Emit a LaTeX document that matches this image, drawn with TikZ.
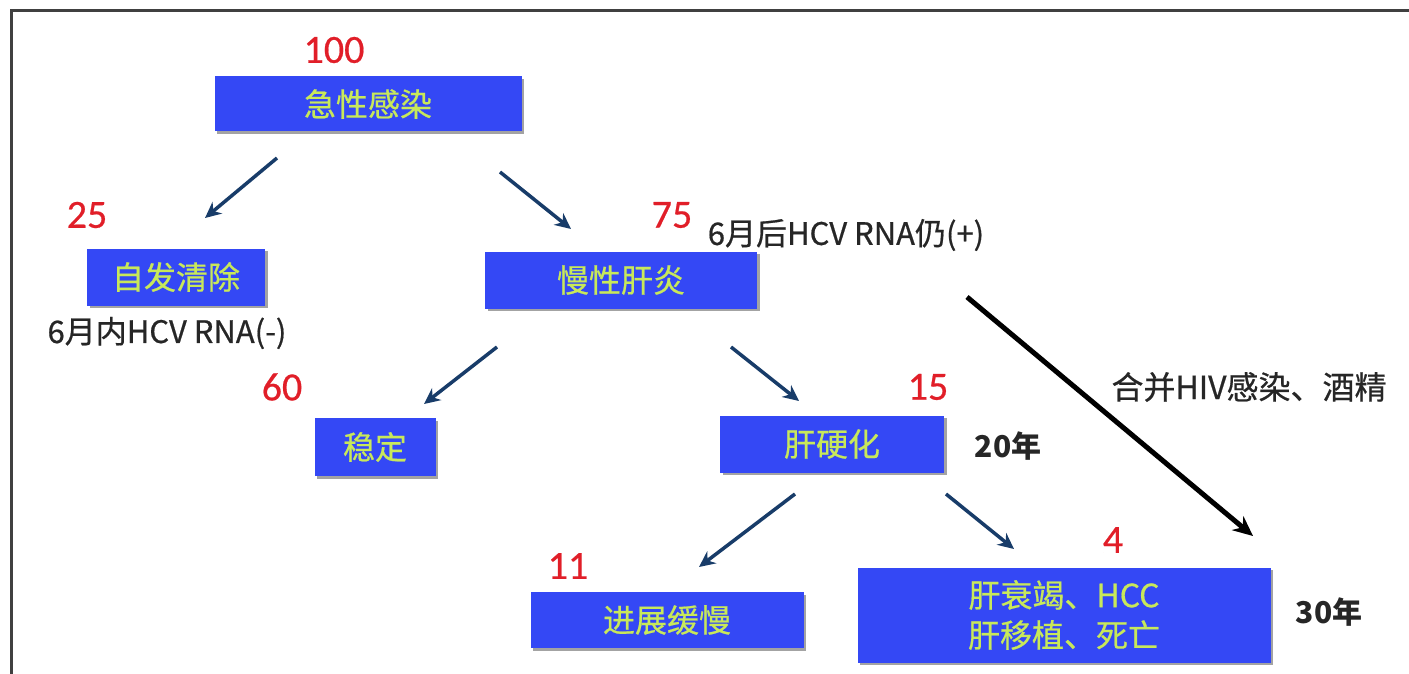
\documentclass[tikz,border=0pt]{standalone}
\usepackage{fontspec}
\setmainfont{Carlito}
\newfontfamily\cjk{Noto Sans CJK SC}
\newfontfamily\cjkm[FakeBold=0.6]{Noto Sans CJK SC}
\newfontfamily\latm[FakeBold=0.5]{Carlito}
\usetikzlibrary{arrows.meta,shadows}
\definecolor{boxblue}{RGB}{52,72,245}
\definecolor{boxtext}{RGB}{200,232,90}
\definecolor{numred}{RGB}{225,30,40}
\definecolor{arrnavy}{RGB}{24,60,105}
\tikzset{
  box/.style={fill=boxblue, draw=none, inner sep=0pt, text=boxtext,
    font=\cjkm\fontsize{32}{40}\selectfont, align=center,
    drop shadow={shadow xshift=2.5pt, shadow yshift=-2.5pt, fill=black!45, opacity=0.8}},
  num/.style={text=numred, font=\latm\fontsize{40}{44}\selectfont, inner sep=0pt},
  lbl/.style={text=black!85, font=\cjkm\fontsize{31}{34}\selectfont, inner sep=0pt},
  yr/.style={text=black!85, font=\cjk\bfseries\fontsize{30}{34}\selectfont, inner sep=0pt},
  arr/.style={draw=arrnavy, line width=3.5pt, -{Stealth[length=16pt,width=15pt]}},
  barr/.style={draw=black, line width=5pt, -{Stealth[length=20pt,width=18pt]}}
}
\begin{document}
\begin{tikzpicture}[x=1pt,y=-1pt]
\useasboundingbox (0,0) rectangle (1409,674);
\fill[white] (0,0) rectangle (1409,674);
\draw[line width=3pt, black!75, line cap=rect] (11,676) -- (11,11) -- (1411,11);

% boxes
\node[box, minimum width=307pt, minimum height=55pt] (acute) at (368,104) {急性感染};
\node[box, minimum width=178pt, minimum height=57pt] (clear) at (176,277) {自发清除};
\node[box, minimum width=272pt, minimum height=57pt] (chronic) at (621,280) {慢性肝炎};
\node[box, minimum width=121pt, minimum height=58pt] (stable) at (375,447) {稳定};
\node[box, minimum width=224pt, minimum height=57pt] (cirr) at (832,444) {肝硬化};
\node[box, minimum width=273pt, minimum height=56pt] (slow) at (667,620) {进展缓慢};
\node[box, minimum width=413pt, minimum height=95pt] (fail) at (1064,615) {肝衰竭、HCC\\肝移植、死亡};

% numbers
\node[num] (n100) at (334,50) {100};
\node[num] (n25) at (87,215) {25};
\node[num] (n75) at (672,215) {75};
\node[num] (n60) at (282,387) {60};
\node[num] (n15) at (928,387) {15};
\node[num] (n11) at (568,566) {11};
\node[num] (n4) at (1113,540) {4};

% labels
\node[lbl] (l1) at (846,235) {6月后HCV RNA仍(+)};
\node[lbl] (l2) at (167,333) {6月内HCV RNA(-)};
\node[lbl, font=\cjkm\fontsize{32}{34}\selectfont] (l3) at (1249,387) {合并HIV感染、酒精};
\node[yr] (y20) at (1008,446) {20年};
\node[yr] (y30) at (1329,612) {30年};

% arrow coordinates
\coordinate (a1s) at (277,158); \coordinate (a1e) at (205,218);
\coordinate (a2s) at (500,172); \coordinate (a2e) at (571,229);
\coordinate (a3s) at (497,347); \coordinate (a3e) at (424,404);
\coordinate (a4s) at (731,347); \coordinate (a4e) at (799,401);
\coordinate (a5s) at (795,494); \coordinate (a5e) at (699,567);
\coordinate (a6s) at (946,494); \coordinate (a6e) at (1014,549);
\coordinate (a7s) at (967,297); \coordinate (a7e) at (1253,536);

\draw[arr] (a1s) -- (a1e);
\draw[arr] (a2s) -- (a2e);
\draw[arr] (a3s) -- (a3e);
\draw[arr] (a4s) -- (a4e);
\draw[arr] (a5s) -- (a5e);
\draw[arr] (a6s) -- (a6e);
\draw[barr] (a7s) -- (a7e);
\end{tikzpicture}
\end{document}
